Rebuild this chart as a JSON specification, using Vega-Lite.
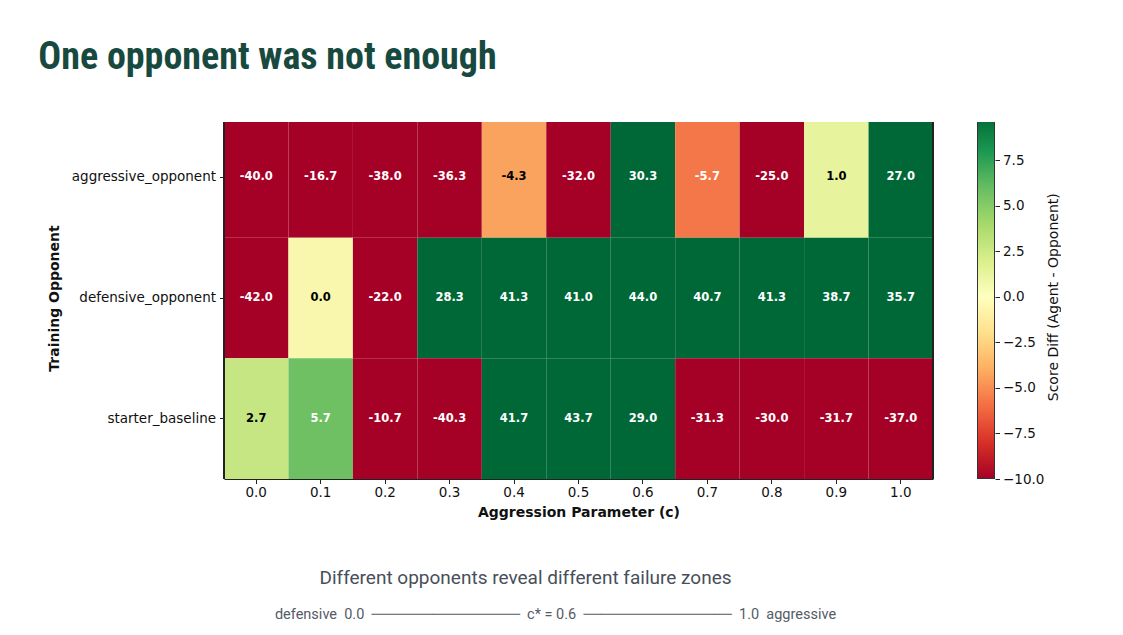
{
  "$schema": "https://vega.github.io/schema/vega-lite/v6.json",
  "background": "white",
  "autosize": {"type": "pad"},
  "padding": {"left": 38, "top": 38, "right": 0, "bottom": 0},
  "title": {
    "text": "One opponent was not enough",
    "anchor": "start",
    "font": "'Roboto Condensed', 'DejaVu Sans Condensed', 'Liberation Sans Narrow', Roboto",
    "fontSize": 38,
    "fontWeight": "bold",
    "color": "#18493f",
    "offset": 45,
    "dx": -9
  },
  "datasets": {
    "cells": [
      {"opponent": "aggressive_opponent", "c": "0.0", "diff": -40.0},
      {"opponent": "aggressive_opponent", "c": "0.1", "diff": -16.7},
      {"opponent": "aggressive_opponent", "c": "0.2", "diff": -38.0},
      {"opponent": "aggressive_opponent", "c": "0.3", "diff": -36.3},
      {"opponent": "aggressive_opponent", "c": "0.4", "diff": -4.3},
      {"opponent": "aggressive_opponent", "c": "0.5", "diff": -32.0},
      {"opponent": "aggressive_opponent", "c": "0.6", "diff": 30.3},
      {"opponent": "aggressive_opponent", "c": "0.7", "diff": -5.7},
      {"opponent": "aggressive_opponent", "c": "0.8", "diff": -25.0},
      {"opponent": "aggressive_opponent", "c": "0.9", "diff": 1.0},
      {"opponent": "aggressive_opponent", "c": "1.0", "diff": 27.0},
      {"opponent": "defensive_opponent", "c": "0.0", "diff": -42.0},
      {"opponent": "defensive_opponent", "c": "0.1", "diff": 0.0},
      {"opponent": "defensive_opponent", "c": "0.2", "diff": -22.0},
      {"opponent": "defensive_opponent", "c": "0.3", "diff": 28.3},
      {"opponent": "defensive_opponent", "c": "0.4", "diff": 41.3},
      {"opponent": "defensive_opponent", "c": "0.5", "diff": 41.0},
      {"opponent": "defensive_opponent", "c": "0.6", "diff": 44.0},
      {"opponent": "defensive_opponent", "c": "0.7", "diff": 40.7},
      {"opponent": "defensive_opponent", "c": "0.8", "diff": 41.3},
      {"opponent": "defensive_opponent", "c": "0.9", "diff": 38.7},
      {"opponent": "defensive_opponent", "c": "1.0", "diff": 35.7},
      {"opponent": "starter_baseline", "c": "0.0", "diff": 2.7},
      {"opponent": "starter_baseline", "c": "0.1", "diff": 5.7},
      {"opponent": "starter_baseline", "c": "0.2", "diff": -10.7},
      {"opponent": "starter_baseline", "c": "0.3", "diff": -40.3},
      {"opponent": "starter_baseline", "c": "0.4", "diff": 41.7},
      {"opponent": "starter_baseline", "c": "0.5", "diff": 43.7},
      {"opponent": "starter_baseline", "c": "0.6", "diff": 29.0},
      {"opponent": "starter_baseline", "c": "0.7", "diff": -31.3},
      {"opponent": "starter_baseline", "c": "0.8", "diff": -30.0},
      {"opponent": "starter_baseline", "c": "0.9", "diff": -31.7},
      {"opponent": "starter_baseline", "c": "1.0", "diff": -37.0}
    ],
    "cbar": [{"lo": -10, "hi": 10}],
    "notes": [
      {"row": 1, "text": "Different opponents reveal different failure zones"},
      {"row": 2, "text": "defensive\u00a0\u00a00.0\u00a0\u00a0─────────────────\u00a0\u00a0c* = 0.6\u00a0\u00a0─────────────────\u00a0\u00a01.0\u00a0\u00a0aggressive"}
    ]
  },
  "spacing": 40,
  "vconcat": [
    {
      "spacing": 43,
      "hconcat": [
        {
          "width": 709,
          "height": 357,
          "data": {"name": "cells"},
          "view": {"stroke": null},
          "encoding": {
            "x": {
              "field": "c", "type": "ordinal",
              "scale": {"paddingInner": 0, "paddingOuter": 0},
              "axis": {"title": "Aggression Parameter (c)", "labelAngle": 0, "domain": true, "domainColor": "#222", "tickSize": 4.5, "labelPadding": 2, "titlePadding": 6}
            },
            "y": {
              "field": "opponent", "type": "nominal",
              "scale": {"paddingInner": 0, "paddingOuter": 0, "range": [-5, 357]},
              "axis": {"title": "Training Opponent", "domain": false, "tickSize": 4.5, "labelPadding": 4, "titlePadding": 10}
            }
          },
          "layer": [
            {
              "mark": {"type": "rect", "clip": true},
              "encoding": {
                "color": {
                  "field": "diff", "type": "quantitative",
                  "scale": {"scheme": "redyellowgreen", "domain": [-10, 10], "clamp": true},
                  "legend": null
                }
              }
            },
            {
              "mark": {"type": "text", "font": "DejaVu Sans", "fontWeight": "bold", "fontSize": 11.5},
              "encoding": {
                "text": {"field": "diff", "type": "quantitative", "format": ".1f"},
                "color": {"condition": {"test": "abs(datum.diff) > 5", "value": "white"}, "value": "black"}
              }
            },
            {
              "mark": {"type": "rule", "color": "#222", "strokeWidth": 1},
              "encoding": {"x": {"datum": "0.0", "type": "ordinal", "bandPosition": 0}, "y": null}
            },
            {
              "mark": {"type": "rule", "color": "#222", "strokeWidth": 1},
              "encoding": {"x": {"datum": "1.0", "type": "ordinal", "bandPosition": 1}, "y": null}
            }
          ]
        },
        {
          "width": 18,
          "height": 357,
          "data": {"name": "cbar"},
          "view": {"stroke": null},
          "mark": {
            "type": "rect",
            "clip": true,
            "stroke": "#333",
            "strokeWidth": 2,
            "fill": {
              "gradient": "linear", "x1": 0, "y1": 1, "x2": 0, "y2": 0,
              "stops": [
                {"offset": 0.0, "color": "#a50026"},
                {"offset": 0.1, "color": "#d73027"},
                {"offset": 0.2, "color": "#f46d43"},
                {"offset": 0.3, "color": "#fdae61"},
                {"offset": 0.4, "color": "#fee08b"},
                {"offset": 0.5, "color": "#ffffbf"},
                {"offset": 0.6, "color": "#d9ef8b"},
                {"offset": 0.7, "color": "#a6d96a"},
                {"offset": 0.8, "color": "#66bd63"},
                {"offset": 0.9, "color": "#1a9850"},
                {"offset": 1.0, "color": "#006837"}
              ]
            }
          },
          "encoding": {
            "y": {
              "field": "lo", "type": "quantitative",
              "scale": {"domain": [-10, 10], "nice": false, "zero": false, "range": [357, -7.5]},
              "axis": {
                "orient": "right",
                "title": "Score Diff (Agent - Opponent)",
                "titleAngle": -90,
                "titleFontWeight": "normal",
                "titlePadding": 17,
                "values": [-10, -7.5, -5, -2.5, 0, 2.5, 5, 7.5],
                "format": ".1f",
                "labelExpr": "replace(datum.label, '-', '−')",
                "domain": false,
                "grid": false,
                "tickSize": 4.5,
                "labelPadding": 3
              }
            },
            "y2": {"field": "hi"}
          }
        }
      ]
    },
    {
      "width": 709,
      "height": 74,
      "data": {"name": "notes"},
      "view": {"stroke": null},
      "encoding": {
        "y": {"field": "row", "type": "ordinal", "axis": null},
        "text": {"field": "text"}
      },
      "layer": [
        {
          "transform": [{"filter": "datum.row == 1"}],
          "mark": {"type": "text", "font": "Roboto", "fontSize": 19, "color": "#474f5b", "dx": -53}
        },
        {
          "transform": [{"filter": "datum.row == 2"}],
          "mark": {"type": "text", "font": "Roboto, 'DejaVu Sans'", "fontSize": 14.5, "color": "#555b66", "dx": -23}
        }
      ]
    }
  ],
  "config": {
    "locale": {"number": {"decimal": ".", "thousands": ",", "grouping": [3], "currency": ["$", ""], "minus": "-"}},
    "axis": {
      "labelFont": "DejaVu Sans", "labelFontSize": 13.5, "labelColor": "#111",
      "titleFont": "DejaVu Sans", "titleFontSize": 14, "titleFontWeight": "bold", "titleColor": "#111",
      "tickColor": "#222", "tickWidth": 1, "grid": false
    }
  }
}
